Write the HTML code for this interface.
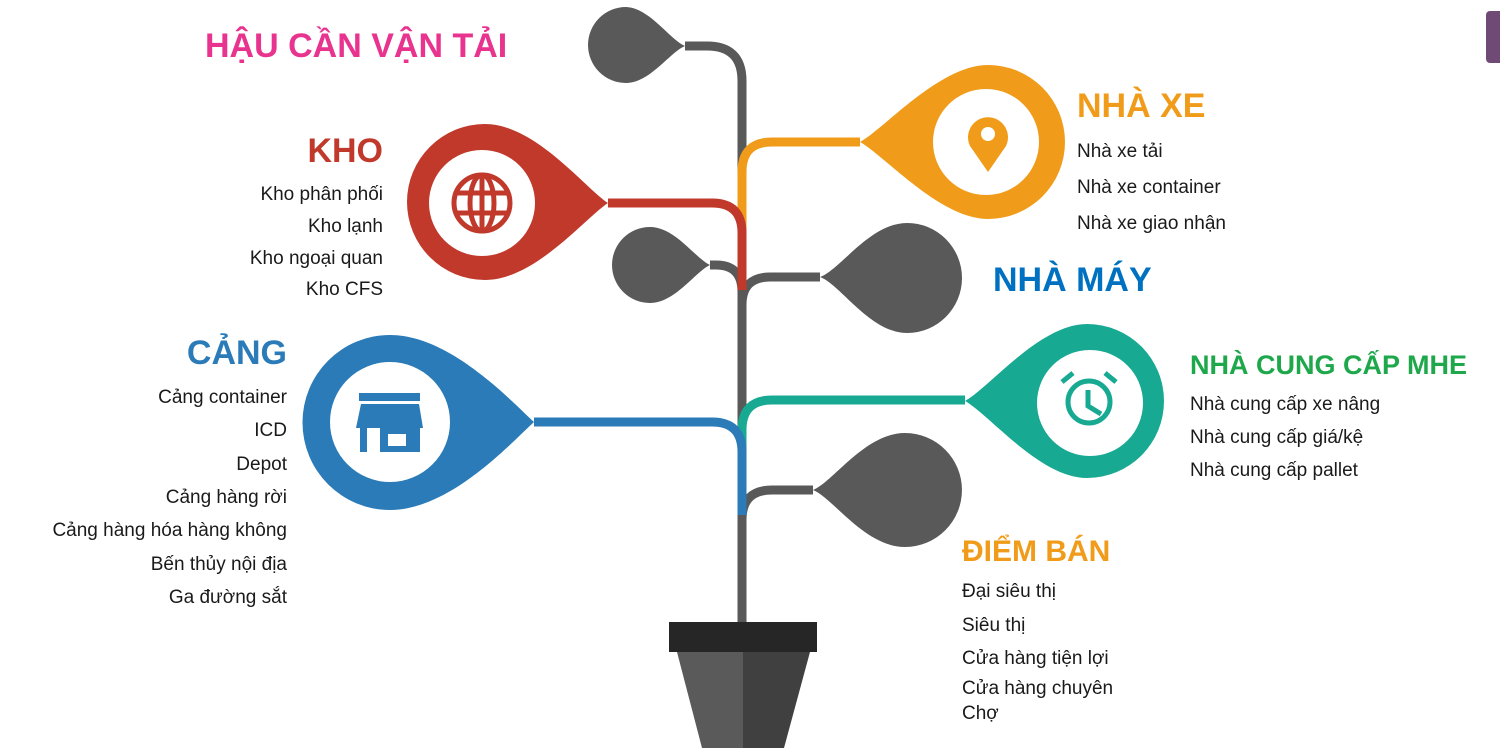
<!DOCTYPE html>
<html><head><meta charset="utf-8"><style>
html,body{margin:0;padding:0;background:#fff;}
svg{display:block;}
text{font-family:"Liberation Sans",sans-serif;}
.b{font-size:19px;fill:#1a1a1a;}
.h{font-weight:bold;font-size:34px;}
</style></head><body>
<svg width="1500" height="752" viewBox="0 0 1500 752" xmlns="http://www.w3.org/2000/svg">
<rect x="1486" y="11" width="20" height="52" rx="4" fill="#6f4a75"/>
<g fill="none" stroke-width="9" stroke-linecap="butt">
  <path d="M685,46 H707 Q742,46 742,81 V622" stroke="#595959"/>
  <path d="M710,265 H716 Q742,265 742,292" stroke="#595959"/>
  <path d="M820,277 H770 Q742,277 742,305" stroke="#595959"/>
  <path d="M813,490 H772 Q742,490 742,520" stroke="#595959"/>
  <path d="M860,142 H772 Q742,142 742,172 V235" stroke="#f09c1a"/>
  <path d="M608,203 H712 Q742,203 742,233 V290" stroke="#c0392b"/>
  <path d="M965,400 H772 Q742,400 742,430 V450" stroke="#17a992"/>
  <path d="M534,422 H712 Q742,422 742,452 V515" stroke="#2a7bb8"/>
</g>
<!-- leaves: tip then circle -->
<g>
  <!-- top gray, tip right -->
  <path d="M685,46 C670,40 650,8 626,7 A38,38 0 0 0 626,83 C650,83 670,52 685,46 Z" fill="#595959"/>
  <!-- left mid gray tip right -->
  <path d="M710,265 C695,258 675,227 650,227 A38,38 0 0 0 650,303 C675,303 695,272 710,265 Z" fill="#595959"/>
  <!-- right gray tip left -->
  <path d="M820,277 C840,270 870,223 907,223 A55,55 0 0 1 907,333 C870,333 840,284 820,277 Z" fill="#595959"/>
  <!-- bottom right gray -->
  <path d="M813,490 C833,482 865,433 905,433 A57,57 0 0 1 905,547 C865,547 833,498 813,490 Z" fill="#595959"/>
  <!-- orange -->
  <path d="M860,142 C885,128 940,65 988,65 A77,77 0 0 1 988,219 C940,219 885,156 860,142 Z" fill="#f09c1a"/>
  <circle cx="986" cy="142" r="53" fill="#fff"/>
  <!-- teal -->
  <path d="M965,401 C990,387 1040,324 1087,324 A77,77 0 0 1 1087,478 C1040,478 990,415 965,401 Z" fill="#17a992"/>
  <circle cx="1090" cy="403" r="53" fill="#fff"/>
  <!-- red tip right -->
  <path d="M608,203 C585,188 535,124 485,124 A78,78 0 0 0 485,280 C535,280 585,218 608,203 Z" fill="#c0392b"/>
  <circle cx="482" cy="203" r="53" fill="#fff"/>
  <!-- blue tip right -->
  <path d="M534,422 C510,400 450,335 390,335 A87,87 0 0 0 390,510 C450,510 510,444 534,422 Z" fill="#2a7bb8"/>
  <circle cx="390" cy="422" r="60" fill="#fff"/>
</g>
<!-- icons -->
<g fill="none" stroke="#c0392b" stroke-width="5">
  <circle cx="482" cy="203" r="28"/>
  <ellipse cx="482" cy="203" rx="12" ry="28"/>
  <line x1="454" y1="193" x2="510" y2="193"/>
  <line x1="454" y1="213" x2="510" y2="213"/>
  <line x1="482" y1="175" x2="482" y2="231"/>
</g>
<path d="M988,172 L970,146 A20,20 0 1 1 1006,146 Z" fill="#f09c1a"/>
<circle cx="988" cy="134" r="7" fill="#fff"/>
<g fill="#2a7bb8">
  <rect x="359" y="393" width="61" height="8"/>
  <path d="M361,404 H419 L423,428 H356 Z"/>
  <rect x="360" y="428" width="7" height="24"/>
  <rect x="413" y="428" width="7" height="24"/>
  <path d="M380,428 H413 V452 H380 Z M388,434 V446 H406 V434 Z" fill-rule="evenodd"/>
</g>
<g fill="none" stroke="#17a992" stroke-width="5">
  <circle cx="1089" cy="402" r="21"/>
  <polyline points="1088,390 1088,406 1101,414"/>
  <line x1="1062" y1="382" x2="1073" y2="373"/>
  <line x1="1116" y1="382" x2="1105" y2="373"/>
</g>
<!-- pot -->
<rect x="669" y="622" width="148" height="30" fill="#262626"/>
<path d="M677,652 H743 V748 H702 Z" fill="#5a5a5a"/>
<path d="M743,652 H810 L784,748 H743 Z" fill="#404040"/>
<!-- text -->
<text x="205" y="57" class="h" fill="#e8338f">HẬU CẦN VẬN TẢI</text>
<text x="383" y="162" class="h" fill="#c0392b" text-anchor="end">KHO</text>
<g class="b" text-anchor="end">
  <text x="383" y="200">Kho phân phối</text>
  <text x="383" y="232">Kho lạnh</text>
  <text x="383" y="264">Kho ngoại quan</text>
  <text x="383" y="295">Kho CFS</text>
</g>
<text x="287" y="364" class="h" fill="#2a7bb8" text-anchor="end">CẢNG</text>
<g class="b" text-anchor="end">
  <text x="287" y="403">Cảng container</text>
  <text x="287" y="436">ICD</text>
  <text x="287" y="470">Depot</text>
  <text x="287" y="503">Cảng hàng rời</text>
  <text x="287" y="536">Cảng hàng hóa hàng không</text>
  <text x="287" y="570">Bến thủy nội địa</text>
  <text x="287" y="603">Ga đường sắt</text>
</g>
<text x="1077" y="117" class="h" fill="#f09c1a">NHÀ XE</text>
<g class="b">
  <text x="1077" y="157">Nhà xe tải</text>
  <text x="1077" y="193">Nhà xe container</text>
  <text x="1077" y="229">Nhà xe giao nhận</text>
</g>
<text x="993" y="291" class="h" fill="#0070c0">NHÀ MÁY</text>
<text x="1190" y="374" style="font-weight:bold;font-size:27px" fill="#1ea84b">NHÀ CUNG CẤP MHE</text>
<g class="b">
  <text x="1190" y="410">Nhà cung cấp xe nâng</text>
  <text x="1190" y="443">Nhà cung cấp giá/kệ</text>
  <text x="1190" y="476">Nhà cung cấp pallet</text>
</g>
<text x="962" y="561" style="font-weight:bold;font-size:30px" fill="#f09c1a">ĐIỂM BÁN</text>
<g class="b">
  <text x="962" y="597">Đại siêu thị</text>
  <text x="962" y="631">Siêu thị</text>
  <text x="962" y="664">Cửa hàng tiện lợi</text>
  <text x="962" y="694">Cửa hàng chuyên</text>
  <text x="962" y="719">Chợ</text>
</g>
</svg>
</body></html>
